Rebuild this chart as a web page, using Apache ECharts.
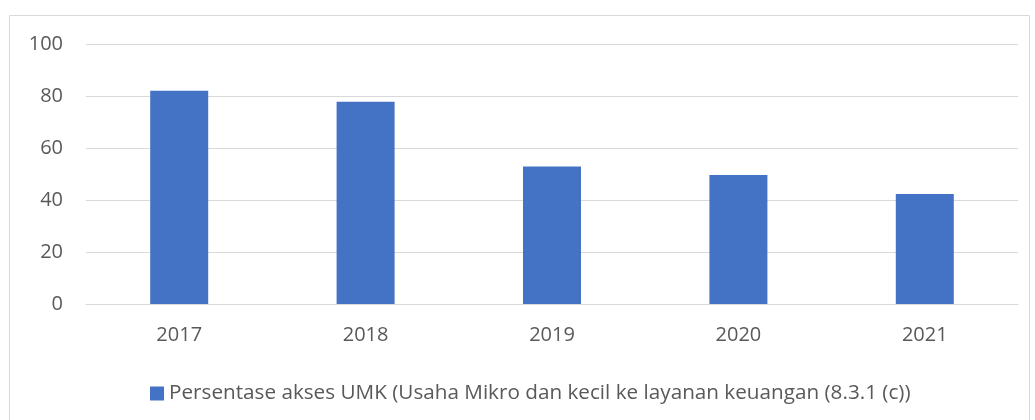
<!DOCTYPE html>
<html>
<head>
<meta charset="utf-8">
<script src="https://cdn.jsdelivr.net/npm/echarts@6/dist/echarts.min.js"></script>
<style>
  html, body { margin: 0; padding: 0; background: #fff; }
  #chart { width: 1035px; height: 420px; }
</style>
</head>
<body>
<div id="chart"></div>
<script>
// Categories and values
const years = ['2017', '2018', '2019', '2020', '2021'];
const aksesUMK = [82, 77.8, 52.9, 49.6, 42.3];
const seriesName = 'Persentase akses UMK (Usaha Mikro dan kecil ke layanan keuangan (8.3.1 (c))';

const chart = echarts.init(document.getElementById('chart'));
const font = '"Open Sans", "Noto Sans", sans-serif';

chart.setOption({
  animation: false,
  graphic: [{
    type: 'rect',
    shape: { x: 9.5, y: 15.5, width: 1020, height: 420 },
    style: { fill: 'none', stroke: '#d9d9d9', lineWidth: 1 },
    silent: true
  }],
  grid: { left: 86, right: 17, top: 44, bottom: 116 },
  legend: {
    data: [seriesName],
    left: 145,
    top: 378,
    icon: 'rect',
    itemWidth: 14,
    itemHeight: 14,
    itemGap: 6,
    textStyle: { fontFamily: font, fontSize: 20.7, color: '#595959' }
  },
  xAxis: {
    type: 'category',
    data: years,
    axisLine: { lineStyle: { color: '#d9d9d9', width: 1 } },
    axisTick: { show: false },
    axisLabel: { fontFamily: font, fontSize: 20, color: '#595959', margin: 21 }
  },
  yAxis: {
    type: 'value',
    min: 0,
    max: 100,
    interval: 20,
    axisLine: { show: false },
    axisTick: { show: false },
    splitLine: { lineStyle: { color: '#d9d9d9', width: 1 } },
    axisLabel: { fontFamily: font, fontSize: 20, color: '#595959', margin: 23 }
  },
  series: [{
    name: seriesName,
    type: 'bar',
    data: aksesUMK,
    barWidth: 58,
    itemStyle: { color: '#4472c4' }
  }]
});
</script>
</body>
</html>
